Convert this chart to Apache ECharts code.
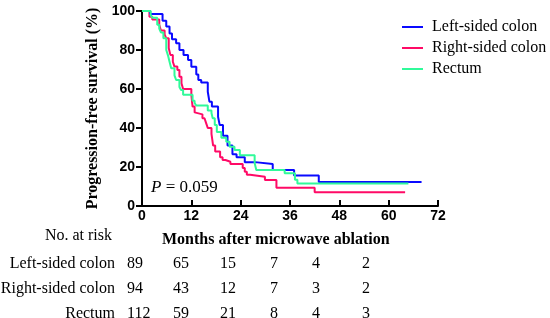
<!DOCTYPE html>
<html>
<head>
<meta charset="utf-8">
<script src="https://cdn.jsdelivr.net/npm/echarts@6/dist/echarts.min.js"></script>
<style>
html,body{margin:0;padding:0;background:#fff;}
#chart{width:550px;height:318px;}
</style>
</head>
<body>
<div id="chart"></div>
<script>
// KM step points: month, survival (%)
var leftMonths = [0, 2, 5, 5.9, 6.7, 7.3, 8.3, 9.1, 10.1, 11.2, 12, 13.2, 13.7, 14.4, 16, 16.4, 17, 18.5, 18.9, 19.7, 20.8, 22, 23, 25, 27.5, 31.8, 37, 43, 68];
var leftSurv   = [100, 98.5, 95, 92, 88.5, 85.5, 83.4, 80, 77.4, 74.9, 71.4, 67.5, 64.6, 63.3, 58.6, 53.5, 51, 45.8, 41.5, 36, 31, 26.5, 25, 22.5, 21.5, 18.5, 15.6, 12.3, 12.3];
var rightMonths = [0, 1.8, 2.5, 4.2, 4.6, 5.5, 5.9, 6.5, 6.9, 7.5, 7.9, 8.6, 9.1, 9.6, 10, 12, 12.3, 12.8, 13.2, 14.7, 15.2, 15.6, 16, 16.9, 17.3, 17.8, 19, 19.6, 20.3, 21.5, 24.5, 25, 25.5, 26.3, 29.9, 32.7, 42, 64];
var rightSurv   = [100, 97, 95.7, 93, 90, 88, 86, 81, 77.5, 74, 71.5, 69.7, 66.3, 63, 60, 57, 51, 48, 47, 45, 44, 42.5, 40, 37, 31, 28, 25, 23.6, 22.7, 21.5, 19.5, 17.6, 16, 15, 13.3, 9.4, 7, 7];
var rectMonths = [0, 2.1, 2.5, 3.7, 4.2, 4.6, 5.2, 5.9, 6.3, 6.7, 7.1, 7.9, 8.3, 9.1, 9.5, 10, 12.3, 12.8, 13.2, 16, 16.9, 17.2, 17.7, 18.2, 19.3, 20.5, 21.3, 22.5, 23.8, 27.4, 27.8, 34.7, 37.2, 37.8, 64.8];
var rectSurv   = [100, 98, 96.5, 93, 91, 89, 86, 80, 77.4, 74, 70.6, 67, 64.6, 61, 59.5, 57, 54, 52.8, 51.5, 49, 47.7, 45, 41.5, 38, 35, 33, 30.4, 28.7, 26, 22, 18.5, 16.8, 13.5, 11.6, 11.6];

var groupNames = ['Left-sided colon', 'Right-sided colon', 'Rectum'];
var groupColors = ['#0a0aff', '#ff0a66', '#30fa9a'];

// numbers at risk
var riskLeft  = [89, 65, 15, 7, 4, 2];
var riskRight = [94, 43, 12, 7, 3, 2];
var riskRect  = [112, 59, 21, 8, 4, 3];

function pairs(xs, ys){
	var out = [];
	for (var i = 0; i < xs.length; i++) out.push([xs[i], ys[i]]);
	return out;
}

var serif = '"Liberation Serif", "Times New Roman", serif';
var sans = '"Liberation Sans", Arial, sans-serif';

var chart = echarts.init(document.getElementById('chart'));

var graphics = [];
// x axis title
graphics.push({type:'text', left:162, top:232, style:{text:'Months after microwave ablation', font:'bold 16px ' + serif, fill:'#000'}});
// P value
graphics.push({type:'text', left:151, top:179, style:{
	text:'{i|P} = 0.059',
	font:'17px ' + serif, fill:'#000',
	rich:{i:{fontStyle:'italic', fontFamily:serif, fontSize:17}}
}});
// risk table
graphics.push({type:'text', right:550-112, top:228, style:{text:'No. at risk', font:'16px ' + serif, fill:'#000'}});
var rowLabels = groupNames;
var rowData = [riskLeft, riskRight, riskRect];
var rowY = [256, 281, 306];
var colX = [127, 173, 220, 270, 312, 362];
for (var r = 0; r < 3; r++){
	graphics.push({type:'text', right:550-115, top:rowY[r], style:{text:rowLabels[r], font:'16px ' + serif, fill:'#000'}});
	for (var c = 0; c < rowData[r].length; c++){
		graphics.push({type:'text', left:colX[c], top:rowY[r], style:{text:String(rowData[r][c]), font:'16px ' + serif, fill:'#000'}});
	}
}

var series = [
	{name:groupNames[1], data:pairs(rightMonths, rightSurv), color:groupColors[1], z:2},
	{name:groupNames[0], data:pairs(leftMonths, leftSurv), color:groupColors[0], z:3},
	{name:groupNames[2], data:pairs(rectMonths, rectSurv), color:groupColors[2], z:4}
].map(function(s){
	return {
		name:s.name, type:'line', step:'end', data:s.data, z:s.z,
		symbol:'none', color:s.color,
		lineStyle:{width:2, color:s.color}
	};
});

chart.setOption({
	animation:false,
	backgroundColor:'#fff',
	grid:{left:142, top:11, width:296, height:195},
	legend:{
		data:groupNames, orient:'vertical', left:397, top:14,
		icon:'rect', itemWidth:21, itemHeight:2, itemGap:5,
		textStyle:{fontFamily:serif, fontSize:16, color:'#000', padding:[0,0,0,4]}
	},
	xAxis:{
		type:'value', min:0, max:72, interval:12,
		axisLine:{lineStyle:{color:'#000', width:2}},
		axisTick:{inside:true, length:6, lineStyle:{color:'#000', width:2}},
		axisLabel:{color:'#000', fontFamily:sans, fontWeight:'bold', fontSize:14, margin:3},
		splitLine:{show:false}
	},
	yAxis:{
		type:'value', min:0, max:100, interval:20,
		name:'Progression-free survival (%)', nameLocation:'middle', nameGap:38,
		nameTextStyle:{fontFamily:serif, fontWeight:'bold', fontSize:16, color:'#000'},
		axisLine:{show:true, lineStyle:{color:'#000', width:2}},
		axisTick:{show:true, length:6, lineStyle:{color:'#000', width:2}},
		axisLabel:{color:'#000', fontFamily:sans, fontWeight:'bold', fontSize:14, margin:7},
		splitLine:{show:false}
	},
	graphic:graphics,
	series:series
});
</script>
</body>
</html>
